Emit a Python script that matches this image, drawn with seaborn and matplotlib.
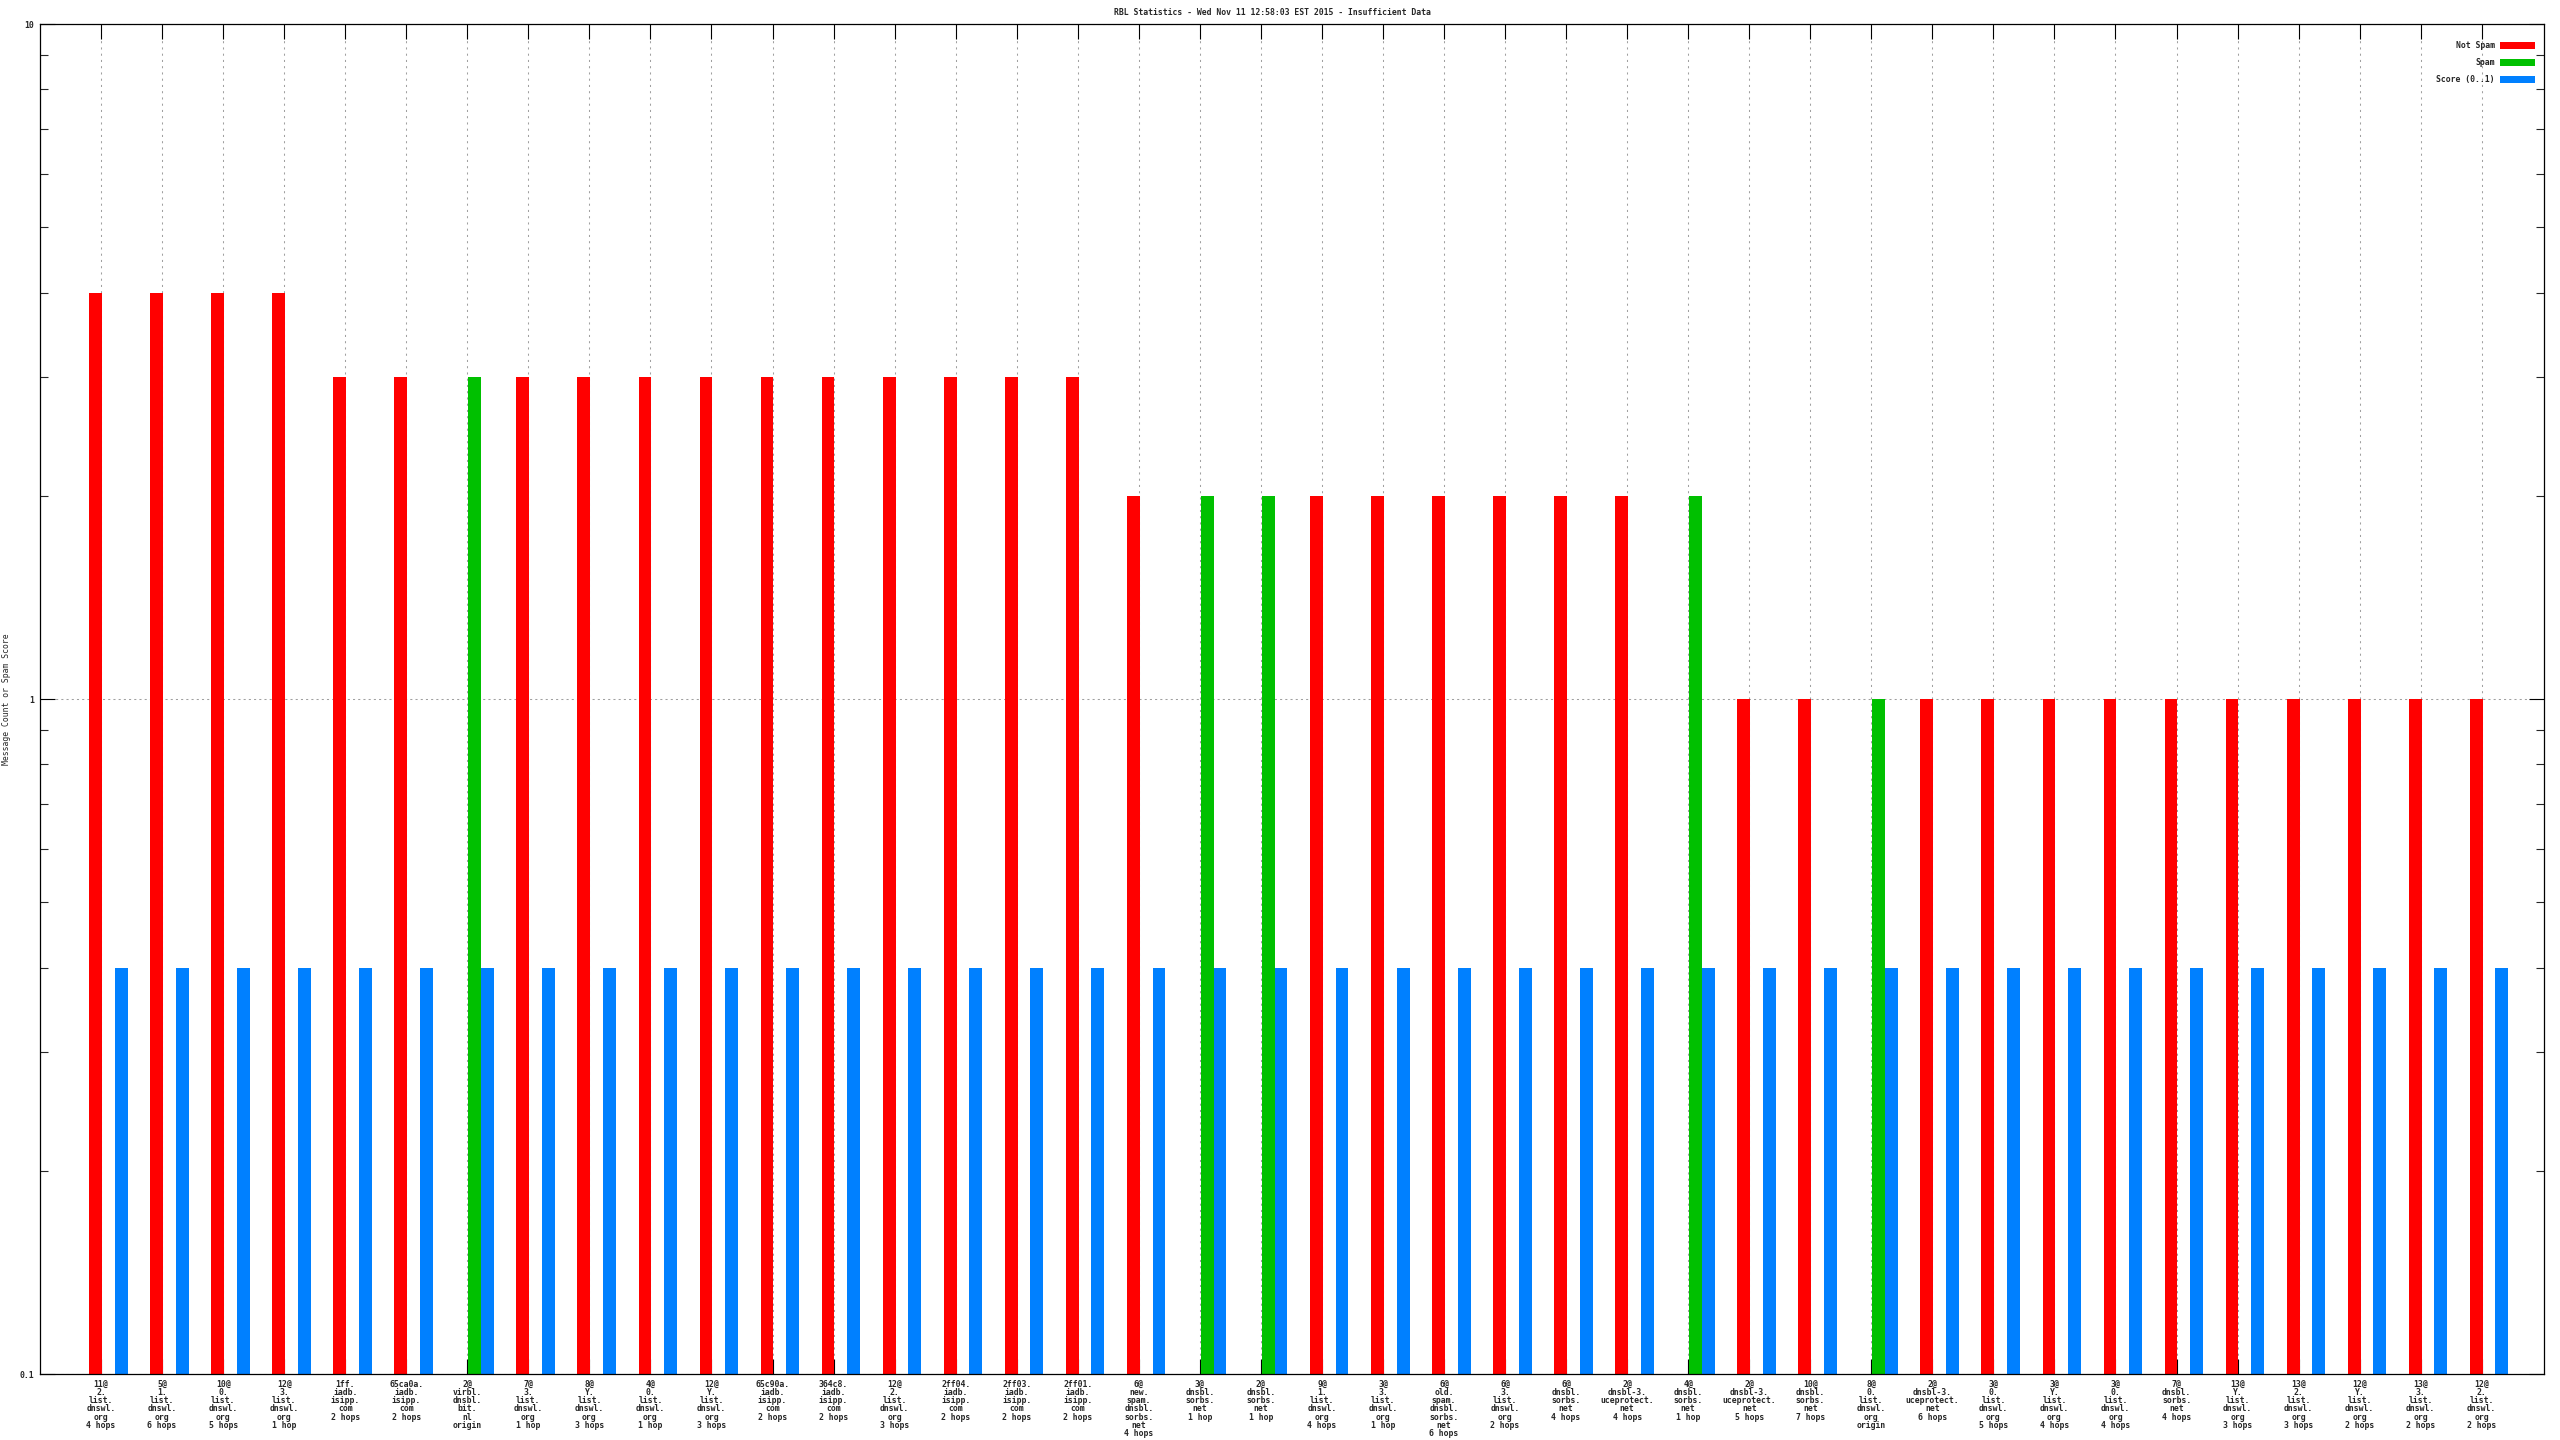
import numpy as np
import pandas as pd
import matplotlib
matplotlib.use("Agg")
import matplotlib.pyplot as plt
from matplotlib.patches import Patch
import seaborn as sns

# ---------------- data ----------------
title = "RBL Statistics - Wed Nov 11 12:58:03 EST 2015 - Insufficient Data"
y_label = "Message Count or Spam Score"

categories = [
    "11@\n2.\nlist.\ndnswl.\norg\n4 hops",
    "5@\n1.\nlist.\ndnswl.\norg\n6 hops",
    "10@\n0.\nlist.\ndnswl.\norg\n5 hops",
    "12@\n3.\nlist.\ndnswl.\norg\n1 hop",
    "1ff.\niadb.\nisipp.\ncom\n2 hops",
    "65ca0a.\niadb.\nisipp.\ncom\n2 hops",
    "2@\nvirbl.\ndnsbl.\nbit.\nnl\norigin",
    "7@\n3.\nlist.\ndnswl.\norg\n1 hop",
    "8@\nY.\nlist.\ndnswl.\norg\n3 hops",
    "4@\n0.\nlist.\ndnswl.\norg\n1 hop",
    "12@\nY.\nlist.\ndnswl.\norg\n3 hops",
    "65c90a.\niadb.\nisipp.\ncom\n2 hops",
    "364c8.\niadb.\nisipp.\ncom\n2 hops",
    "12@\n2.\nlist.\ndnswl.\norg\n3 hops",
    "2ff04.\niadb.\nisipp.\ncom\n2 hops",
    "2ff03.\niadb.\nisipp.\ncom\n2 hops",
    "2ff01.\niadb.\nisipp.\ncom\n2 hops",
    "6@\nnew.\nspam.\ndnsbl.\nsorbs.\nnet\n4 hops",
    "3@\ndnsbl.\nsorbs.\nnet\n1 hop",
    "2@\ndnsbl.\nsorbs.\nnet\n1 hop",
    "9@\n1.\nlist.\ndnswl.\norg\n4 hops",
    "3@\n3.\nlist.\ndnswl.\norg\n1 hop",
    "6@\nold.\nspam.\ndnsbl.\nsorbs.\nnet\n6 hops",
    "6@\n3.\nlist.\ndnswl.\norg\n2 hops",
    "6@\ndnsbl.\nsorbs.\nnet\n4 hops",
    "2@\ndnsbl-3.\nuceprotect.\nnet\n4 hops",
    "4@\ndnsbl.\nsorbs.\nnet\n1 hop",
    "2@\ndnsbl-3.\nuceprotect.\nnet\n5 hops",
    "10@\ndnsbl.\nsorbs.\nnet\n7 hops",
    "8@\n0.\nlist.\ndnswl.\norg\norigin",
    "2@\ndnsbl-3.\nuceprotect.\nnet\n6 hops",
    "3@\n0.\nlist.\ndnswl.\norg\n5 hops",
    "3@\nY.\nlist.\ndnswl.\norg\n4 hops",
    "3@\n0.\nlist.\ndnswl.\norg\n4 hops",
    "7@\ndnsbl.\nsorbs.\nnet\n4 hops",
    "13@\nY.\nlist.\ndnswl.\norg\n3 hops",
    "13@\n2.\nlist.\ndnswl.\norg\n3 hops",
    "12@\nY.\nlist.\ndnswl.\norg\n2 hops",
    "13@\n3.\nlist.\ndnswl.\norg\n2 hops",
    "12@\n2.\nlist.\ndnswl.\norg\n2 hops",
]

N = None
not_spam = [4, 4, 4, 4, 3, 3, N, 3, 3, 3,
            3, 3, 3, 3, 3, 3, 3, 2, N, N,
            2, 2, 2, 2, 2, 2, N, 1, 1, N,
            1, 1, 1, 1, 1, 1, 1, 1, 1, 1]
spam = [N, N, N, N, N, N, 3, N, N, N,
        N, N, N, N, N, N, N, N, 2, 2,
        N, N, N, N, N, N, 2, N, N, 1,
        N, N, N, N, N, N, N, N, N, N]
score = [0.4, 0.4, 0.4, 0.4, 0.4, 0.4, 0.4, 0.4, 0.4, 0.4,
         0.4, 0.4, 0.4, 0.4, 0.4, 0.4, 0.4, 0.4, 0.4, 0.4,
         0.4, 0.4, 0.4, 0.4, 0.4, 0.4, 0.4, 0.4, 0.4, 0.4,
         0.4, 0.4, 0.4, 0.4, 0.4, 0.4, 0.4, 0.4, 0.4, 0.4]

series_names = ["Not Spam", "Spam", "Score (0..1)"]
series_colors = ["#ff0000", "#00c000", "#0080ff"]

# ---------------- long table ----------------
rows = []
for name, vals in zip(series_names, [not_spam, spam, score]):
    for i, v in enumerate(vals):
        if v is not None:
            rows.append({"idx": i, "series": name, "value": v})
df = pd.DataFrame(rows)

# ---------------- style ----------------
sns.set_style("white")
plt.rcParams["font.family"] = ["DejaVu Sans Mono", "DejaVu Sans"]
plt.rcParams["font.weight"] = "bold"
FS = 5.9

fig = plt.figure(figsize=(25.6, 14.4), dpi=100)
ax = fig.add_axes([40 / 2560, 1 - 1374 / 1440, 2504 / 2560, 1350 / 1440])

sns.barplot(data=df, x="idx", y="value", hue="series",
            order=list(range(len(categories))),
            hue_order=series_names, palette=series_colors,
            width=0.63, errorbar=None, saturation=1, linewidth=0,
            legend=False, ax=ax)

ax.set_yscale("log")
ax.set_ylim(0.1, 10)
ticks = np.arange(len(categories)) - 0.12
ax.set_xlim(ticks[0] - 1.0, ticks[-1] + 1.02)
ax.set_xticks(ticks)
ax.set_xticklabels(categories, fontsize=FS, linespacing=0.9, va="top", ha="center")
ax.set_yticks([0.1, 1, 10])
ax.set_yticklabels(["0.1", "1", "10"], fontsize=FS)
ax.set_xlabel("")
ax.set_ylabel(y_label, fontsize=FS)
ax.yaxis.set_label_coords(-0.0115, 0.5)

ax.tick_params(axis="both", which="major", direction="in", length=10.5, width=0.8,
               top=True, right=True, bottom=True, left=True, pad=4, color="black")
ax.tick_params(axis="y", which="minor", direction="in", length=5.5, width=0.8,
               left=True, right=True)
ax.tick_params(axis="x", which="minor", bottom=False, top=False)

for sp in ax.spines.values():
    sp.set_visible(True)
    sp.set_color("black")
    sp.set_linewidth(0.9)

ax.set_axisbelow(True)
ax.grid(True, axis="x", which="major", color="#a0a0a0", linestyle=(0, (2, 4)), linewidth=0.75)
ax.grid(True, axis="y", which="major", color="#a0a0a0", linestyle=(0, (2, 3)), linewidth=0.75)
ax.grid(False, which="minor")

handles = [Patch(facecolor=c, edgecolor="none", label=n) for n, c in zip(series_names, series_colors)]
ax.legend(handles=handles, loc="upper right", bbox_to_anchor=(1 - 9 / 2504, 1 - 17 / 1350),
          frameon=False, markerfirst=False, fontsize=FS, handlelength=4.3, handleheight=0.95,
          handletextpad=0.6, labelspacing=1.0, borderpad=0, borderaxespad=0)

fig.text(1272 / 2560, 1 - 12.5 / 1440, title, ha="center", va="center", fontsize=FS)

fig.savefig("out.png", dpi=100)
